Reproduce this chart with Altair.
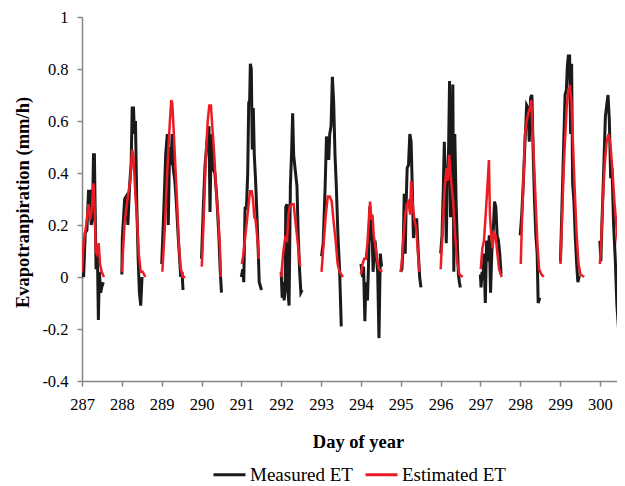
import math
import altair as alt
import pandas as pd

# Measured ET (black), day of year and mm/h
meas_day = [
    287.000, 287.040, 287.082, 287.123, 287.164, 287.205, 287.230, 287.263, 287.288, 287.312, 287.329, 287.353, 287.386, 287.411, 287.436, 287.469, 287.494, 287.535,
    288.000, 288.012, 288.070, 288.111, 288.152, 288.194, 288.235, 288.260, 288.293, 288.317, 288.342, 288.375, 288.408, 288.441, 288.474, 288.507,
    289.001, 289.059, 289.100, 289.141, 289.166, 289.199, 289.232, 289.264, 289.289, 289.330, 289.363, 289.413, 289.454, 289.478, 289.511, 289.536,
    290.000, 290.048, 290.089, 290.155, 290.188, 290.213, 290.237, 290.270, 290.303, 290.336, 290.386, 290.435, 290.468, 290.501,
    291.000, 291.036, 291.061, 291.094, 291.127, 291.160, 291.185, 291.209, 291.226, 291.250, 291.275, 291.300, 291.325, 291.358, 291.391, 291.424, 291.449, 291.506,
    292.000, 292.025, 292.049, 292.074, 292.099, 292.115, 292.148, 292.173, 292.198, 292.231, 292.264, 292.288, 292.313, 292.354, 292.396, 292.428, 292.461, 292.494, 292.527,
    293.013, 293.054, 293.104, 293.137, 293.170, 293.194, 293.219, 293.252, 293.285, 293.318, 293.351, 293.384, 293.425, 293.466, 293.508,
    294.002, 294.043, 294.068, 294.101, 294.125, 294.166, 294.191, 294.224, 294.249, 294.274, 294.307, 294.331, 294.356, 294.389, 294.422, 294.455, 294.488, 294.521,
    295.000, 295.031, 295.064, 295.089, 295.114, 295.138, 295.163, 295.196, 295.229, 295.262, 295.295, 295.320, 295.361, 295.402, 295.443, 295.476, 295.509,
    296.004, 296.037, 296.070, 296.095, 296.119, 296.144, 296.169, 296.202, 296.227, 296.251, 296.276, 296.309, 296.334, 296.358, 296.391, 296.416, 296.449, 296.474, 296.498,
    297.000, 297.017, 297.042, 297.067, 297.091, 297.124, 297.157, 297.190, 297.223, 297.256, 297.289, 297.322, 297.355, 297.388, 297.421, 297.454, 297.487, 297.520,
    298.000, 298.039, 298.080, 298.121, 298.162, 298.195, 298.228, 298.261, 298.294, 298.327, 298.360, 298.393, 298.426, 298.451, 298.492,
    299.011, 299.052, 299.093, 299.126, 299.159, 299.184, 299.208, 299.241, 299.266, 299.291, 299.316, 299.349, 299.381, 299.414, 299.447, 299.480, 299.513,
    300.000, 300.024, 300.057, 300.098, 300.139, 300.172, 300.205, 300.238, 300.271, 300.304, 300.345, 300.386, 300.428, 300.469,
]
meas_et = [
    0.015, 0.0, 0.17, 0.18, 0.33, 0.33, 0.2, 0.22, 0.47, 0.47, 0.27, 0.03, 0.1, -0.165, 0.02, -0.06, -0.04, -0.02,
    0.01, 0.15, 0.3, 0.31, 0.2, 0.35, 0.44, 0.65, 0.65, 0.55, 0.6, 0.28, 0.08, -0.06, -0.11, 0.0,
    0.05, 0.28, 0.47, 0.55, 0.2, 0.5, 0.43, 0.55, 0.42, 0.37, 0.3, 0.16, 0.06, 0.0, 0.02, -0.05,
    0.07, 0.28, 0.43, 0.55, 0.58, 0.25, 0.47, 0.55, 0.41, 0.4, 0.3, 0.16, 0.03, -0.06,
    0.0, 0.03, -0.02, 0.27, 0.26, 0.4, 0.67, 0.68, 0.82, 0.8, 0.49, 0.65, 0.47, 0.37, 0.24, 0.1, -0.02, -0.05,
    0.02, -0.08, -0.02, -0.09, -0.05, 0.27, 0.28, -0.06, -0.11, 0.35, 0.49, 0.63, 0.47, 0.41, 0.35, 0.16, 0.03, -0.06, -0.05,
    0.08, 0.13, 0.35, 0.54, 0.52, 0.45, 0.55, 0.58, 0.77, 0.67, 0.47, 0.35, 0.16, 0.03, -0.19,
    0.05, 0.0, 0.04, -0.17, -0.02, -0.09, 0.04, 0.27, 0.14, 0.23, 0.02, 0.09, 0.14, 0.08, 0.02, -0.235, 0.09, 0.04,
    0.02, 0.03, 0.13, 0.32, 0.09, 0.29, 0.42, 0.43, 0.55, 0.52, 0.32, 0.15, 0.22, 0.22, 0.09, 0.0, -0.04,
    0.09, 0.16, 0.34, 0.52, 0.34, 0.13, 0.36, 0.49, 0.754, 0.23, 0.32, 0.74, 0.02, 0.55, 0.29, 0.16, 0.01, -0.02, -0.04,
    0.01, -0.04, 0.02, -0.01, 0.09, -0.1, 0.14, 0.06, 0.16, -0.06, 0.1, 0.17, 0.29, 0.27, 0.16, 0.14, 0.09, 0.01,
    0.16, 0.24, 0.37, 0.52, 0.66, 0.65, 0.52, 0.69, 0.7, 0.47, 0.29, 0.16, 0.09, -0.1, -0.08,
    0.06, 0.29, 0.52, 0.7, 0.72, 0.81, 0.85, 0.85, 0.55, 0.82, 0.36, 0.29, 0.16, 0.06, -0.02, 0.0, 0.0,
    0.14, 0.06, 0.23, 0.42, 0.62, 0.66, 0.70, 0.6, 0.38, 0.42, 0.2, 0.07, -0.11, -0.2,
]

# Estimated ET (red)
est_day = [
    287.000, 287.040, 287.106, 287.164, 287.205, 287.246, 287.288, 287.312, 287.345, 287.370, 287.419, 287.452, 287.494, 287.551,
    288.000, 288.070, 288.152, 288.210, 288.260, 288.293, 288.342, 288.383, 288.424, 288.474, 288.523, 288.589,
    289.017, 289.083, 289.141, 289.199, 289.240, 289.264, 289.297, 289.330, 289.380, 289.429, 289.470, 289.528, 289.594,
    290.007, 290.056, 290.105, 290.155, 290.196, 290.237, 290.270, 290.320, 290.369, 290.419, 290.460, 290.484,
    291.012, 291.044, 291.094, 291.143, 291.176, 291.217, 291.259, 291.292, 291.325, 291.358, 291.407, 291.440,
    292.000, 292.049, 292.099, 292.148, 292.181, 292.214, 292.264, 292.313, 292.346, 292.396, 292.445, 292.478,
    293.013, 293.071, 293.120, 293.170, 293.219, 293.269, 293.318, 293.367, 293.417, 293.466, 293.549,
    294.002, 294.043, 294.084, 294.125, 294.166, 294.208, 294.232, 294.265, 294.290, 294.323, 294.372, 294.414, 294.455, 294.537,
    295.000, 295.031, 295.073, 295.114, 295.155, 295.196, 295.237, 295.262, 295.295, 295.344, 295.386, 295.427, 295.468,
    296.004, 296.054, 296.103, 296.152, 296.185, 296.218, 296.251, 296.284, 296.317, 296.367, 296.416, 296.474, 296.556,
    297.009, 297.050, 297.091, 297.133, 297.174, 297.215, 297.240, 297.273, 297.306, 297.339, 297.380, 297.421, 297.470, 297.536,
    298.014, 298.047, 298.080, 298.121, 298.162, 298.203, 298.245, 298.278, 298.311, 298.352, 298.393, 298.434, 298.476, 298.533, 298.591,
    299.011, 299.052, 299.093, 299.134, 299.167, 299.208, 299.250, 299.283, 299.316, 299.365, 299.414, 299.464, 299.513, 299.604,
    300.000, 300.030, 300.070, 300.120, 300.170, 300.220, 300.270, 300.320, 300.370, 300.430, 300.490,
]
est_et = [
    0.02, 0.13, 0.2, 0.28, 0.22, 0.26, 0.36, 0.29, 0.1, 0.09, 0.13, 0.05, 0.02, 0.0,
    0.02, 0.21, 0.31, 0.37, 0.49, 0.46, 0.31, 0.22, 0.09, 0.02, 0.02, 0.0,
    0.02, 0.2, 0.41, 0.58, 0.68, 0.67, 0.58, 0.47, 0.31, 0.13, 0.04, 0.0, 0.0,
    0.04, 0.23, 0.45, 0.6, 0.66, 0.66, 0.58, 0.47, 0.33, 0.23, 0.12, 0.0,
    0.05, 0.08, 0.15, 0.22, 0.27, 0.33, 0.33, 0.3, 0.23, 0.22, 0.14, 0.07,
    0.0, 0.09, 0.15, 0.14, 0.24, 0.27, 0.28, 0.28, 0.23, 0.16, 0.09, 0.04,
    0.02, 0.14, 0.24, 0.31, 0.31, 0.29, 0.21, 0.14, 0.05, 0.02, 0.0,
    0.01, 0.05, 0.07, 0.07, 0.13, 0.24, 0.29, 0.22, 0.24, 0.16, 0.11, 0.06, 0.03, 0.02,
    0.02, 0.06, 0.16, 0.24, 0.28, 0.29, 0.24, 0.37, 0.29, 0.22, 0.19, 0.11, 0.02,
    0.03, 0.19, 0.34, 0.42, 0.37, 0.47, 0.4, 0.34, 0.29, 0.16, 0.06, 0.01, 0.0,
    0.03, 0.11, 0.14, 0.24, 0.34, 0.45, 0.24, 0.16, 0.11, 0.17, 0.16, 0.1, 0.03, 0.0,
    0.05, 0.23, 0.36, 0.55, 0.6, 0.63, 0.65, 0.68, 0.57, 0.42, 0.27, 0.12, 0.03, 0.01, 0.0,
    0.05, 0.23, 0.42, 0.55, 0.65, 0.72, 0.73, 0.68, 0.55, 0.35, 0.17, 0.05, 0.01, 0.0,
    0.05, 0.12, 0.28, 0.43, 0.52, 0.55, 0.50, 0.40, 0.28, 0.17, 0.07,
]

x_ticks = list(range(287, 301))
y_ticks = [-0.4, -0.2, 0, 0.2, 0.4, 0.6, 0.8, 1]
series_names = ["Measured ET", "Estimated ET"]
series_colors = ["#1a1a1a", "#ed1c24"]

rows = []
for d, v in zip(meas_day, meas_et):
    rows.append({"day": d, "et": v, "series": series_names[0], "seg": "m%d" % math.floor(d)})
for d, v in zip(est_day, est_et):
    rows.append({"day": d, "et": v, "series": series_names[1], "seg": "e%d" % math.floor(d)})
df = pd.DataFrame(rows)

FONT = "Liberation Serif"
AX_GRAY = "#868686"

x_enc = alt.X(
    "day:Q",
    scale=alt.Scale(domain=[287, 300.43], nice=False, zero=False),
    axis=alt.Axis(
        values=x_ticks, labelExpr="'' + datum.value", title="Day of year",
        titleX=276, titleY=60, titleBaseline="middle", titleAlign="center",
        labelPadding=10, labelFlush=False,
    ),
)
y_enc = alt.Y(
    "et:Q",
    scale=alt.Scale(domain=[-0.4, 1], nice=False, zero=False),
    axis=alt.Axis(
        values=y_ticks, labelExpr="'' + datum.value", title="Evapotranpiration (mm/h)",
        titleX=-60, titleY=185, titleAngle=270, titleBaseline="middle", titleAlign="center",
        labelPadding=9,
    ),
)
color_enc = alt.Color(
    "series:N",
    scale=alt.Scale(domain=series_names, range=series_colors),
    title=None,
    legend=alt.Legend(
        orient="none", legendX=130, legendY=440, direction="horizontal",
        symbolType="stroke", symbolSize=1024, symbolStrokeWidth=3,
        labelFont=FONT, labelFontSize=19, labelColor="#000000",
        labelOffset=3, columnPadding=6,
    ),
)

base = alt.Chart(df)
meas = base.transform_filter(alt.datum.series == series_names[0]).mark_line(
    clip=True, strokeWidth=3
).encode(x=x_enc, y=y_enc, color=color_enc, detail="seg:N")
est = base.transform_filter(alt.datum.series == series_names[1]).mark_line(
    clip=True, strokeWidth=2.5
).encode(x=x_enc, y=y_enc, color=color_enc, detail="seg:N")

chart = alt.layer(meas, est).properties(
    width=535, height=364,
    padding={"left": 74, "top": 9, "right": 0, "bottom": 105},
    autosize=alt.AutoSizeParams(type="none"),
).configure_view(strokeWidth=0).configure_axis(
    grid=False, domainColor=AX_GRAY, domainWidth=1.5, tickColor=AX_GRAY,
    tickWidth=1.5, tickSize=5, labelFont=FONT, labelFontSize=16.5,
    labelColor="#000000", titleFont=FONT, titleFontSize=18.5,
    titleFontWeight="bold", titleColor="#000000",
)

chart.save("out.html", embed_options={"renderer": "svg", "actions": False})
